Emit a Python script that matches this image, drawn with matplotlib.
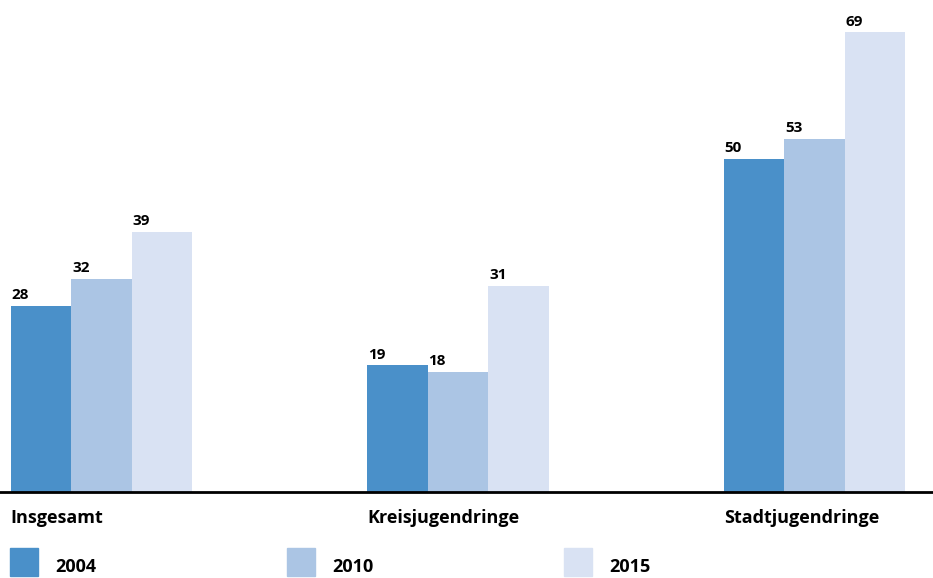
import matplotlib
matplotlib.use("Agg")
import matplotlib.pyplot as plt
from matplotlib.patches import Rectangle

categories = ["Insgesamt", "Kreisjugendringe", "Stadtjugendringe"]
years = ["2004", "2010", "2015"]
values_2004 = [28, 19, 50]
values_2010 = [32, 18, 53]
values_2015 = [39, 31, 69]
series = [values_2004, values_2010, values_2015]
colors = ["#4A90C9", "#ABC5E4", "#D9E2F3"]

plt.rcParams['font.family'] = ['Open Sans', 'DejaVu Sans']

W, H = 933, 578
fig = plt.figure(figsize=(W / 100, H / 100), dpi=100)
base_px = 492
ax = fig.add_axes([0, (H - base_px) / H, 1, base_px / H])

spacing = 356.5
bw = 60.5 / spacing
left_px = 101.5
ax.set_xlim(-left_px / spacing, (W - left_px) / spacing)
ax.set_ylim(0, base_px / 6.66)

for i, (vals, col) in enumerate(zip(series, colors)):
    xs = [g + (i - 1) * bw for g in range(len(categories))]
    bars = ax.bar(xs, vals, width=bw, color=col, align='center', zorder=2)
    for b, v in zip(bars, vals):
        ax.annotate(str(v), (b.get_x(), b.get_height()), xytext=(0.5, 5),
                    textcoords='offset points', ha='left', va='baseline',
                    fontsize=11, fontweight='bold', color='black')

for s in ['top', 'left', 'right']:
    ax.spines[s].set_visible(False)
ax.spines['bottom'].set_linewidth(2)
ax.spines['bottom'].set_color('black')
ax.set_xticks([])
ax.set_yticks([])

# category labels
for g, name in enumerate(categories):
    xl = g - 1.5 * bw
    ax.annotate(name, (xl, 0), xytext=(0, -22.5), textcoords='offset points',
                ha='left', va='baseline', fontsize=13, fontweight='bold',
                annotation_clip=False)

# legend
leg_x = [10, 287, 564]
for x0, yr, col in zip(leg_x, years, colors):
    fig.patches.append(Rectangle((x0 / W, (H - 576) / H), 28 / W, 28 / H,
                                 transform=fig.transFigure, color=col))
    fig.text((x0 + 45) / W, 1.5 / H, yr, ha='left', va='bottom',
             fontsize=13, fontweight='bold')

fig.savefig("out.png", dpi=100)
